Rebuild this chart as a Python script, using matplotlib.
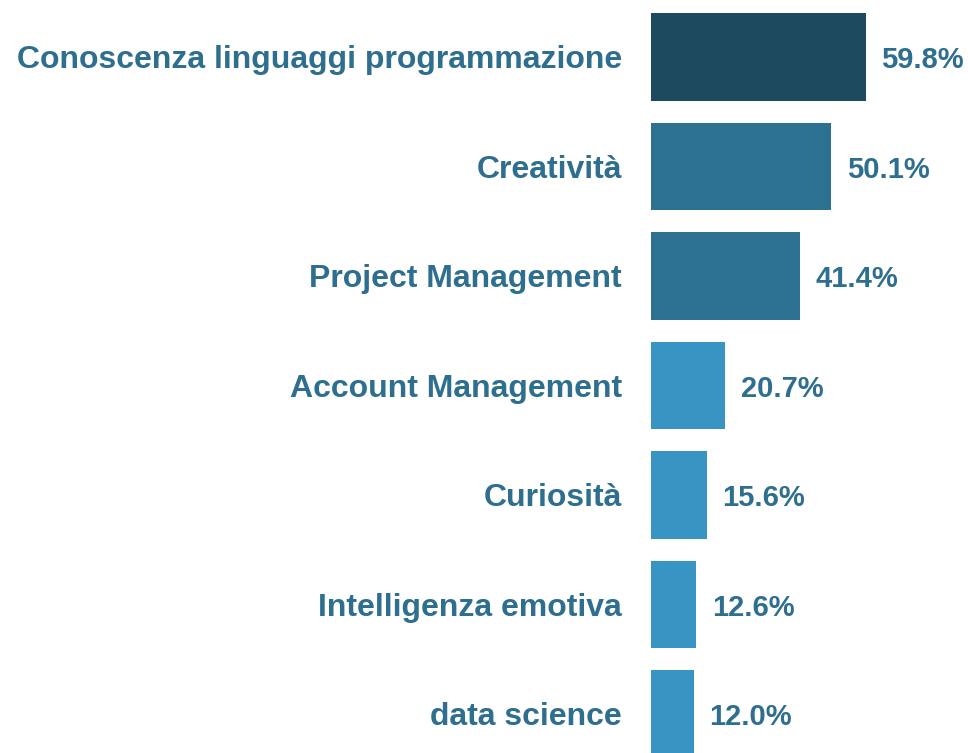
import matplotlib
matplotlib.use("Agg")
import matplotlib.pyplot as plt

categories = ["Conoscenza linguaggi programmazione", "Creatività", "Project Management",
              "Account Management", "Curiosità", "Intelligenza emotiva", "data science"]
values = [59.8, 50.1, 41.4, 20.7, 15.6, 12.6, 12.0]
colors = ["#1e4a5f", "#2c7191", "#2c7191", "#3895c3", "#3895c3", "#3895c3", "#3895c3"]
text_color = "#2e6e8e"

plt.rcParams['font.family'] = ['Liberation Sans', 'DejaVu Sans']

fig = plt.figure(figsize=(9.68, 7.53), dpi=100)
ax = fig.add_axes([651/968, 0, 317/968, 1])
y = list(range(len(categories)))
ax.barh(y, values, height=0.8, color=colors)
ax.set_xlim(0, 317/3.595)
ax.set_ylim(-0.519 + 753/109.5, -0.519)
for i, v in enumerate(values):
    ax.text(v + 4.3, i + 0.03, f"{v:.1f}%", va="center", ha="left", fontsize=21,
            fontweight="bold", color=text_color)
ax.set_yticks(y)
ax.set_yticklabels(categories, fontsize=23, fontweight="bold", color=text_color)
ax.tick_params(axis="y", length=0, pad=21)
ax.set_xticks([])
for s in ax.spines.values():
    s.set_visible(False)
fig.savefig("out.png", dpi=100)
